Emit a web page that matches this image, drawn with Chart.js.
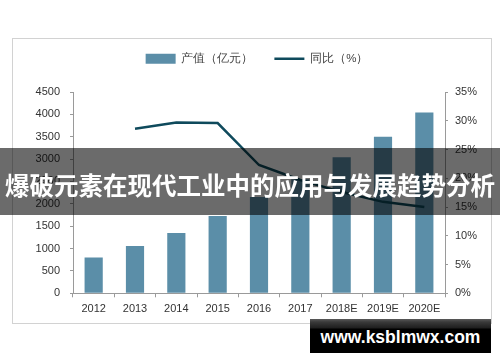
<!DOCTYPE html>
<html>
<head>
<meta charset="utf-8">
<script src="https://cdn.jsdelivr.net/npm/chart.js@4.4.0/dist/chart.umd.min.js"></script>
<style>
  html, body { margin: 0; padding: 0; background: #fff; }
  body { width: 500px; height: 362px; position: relative; overflow: hidden; }
  #frame { position: absolute; left: 12px; top: 38px; width: 480px; height: 286px;
           border: 1.5px solid #d2d2d2; box-sizing: border-box; }
  #box { position: absolute; left: 13px; top: 32px; width: 478px; height: 290px; }
  #banner { position: absolute; left: 0; top: 148px; width: 500px; height: 67px;
            background: rgba(0, 0, 0, 0.58); color: #fff; text-align: center;
            font-family: "Noto Sans CJK SC", sans-serif; font-weight: bold;
            font-size: 24.5px; line-height: 67px; padding-top: 3px; box-sizing: border-box;
            white-space: nowrap; }
  #mark { position: absolute; left: 310px; top: 319px; width: 181px; height: 34px;
          background: linear-gradient(#5a5a5a 0, #3a3a3a 3px, #1e1e1e 9px, #000 10px);
          color: #fff; text-align: center; font-family: "Liberation Sans", Arial, sans-serif;
          font-weight: bold; font-size: 17.5px; line-height: 36px; }
</style>
</head>
<body>
<div id="frame"></div>
<div id="box"><canvas id="grafico"></canvas></div>
<div id="banner">爆破元素在现代工业中的应用与发展趋势分析</div>
<div id="mark">www.ksblmwx.com</div>
<script>
var anos = ['2012', '2013', '2014', '2015', '2016', '2017', '2018E', '2019E', '2020E'];
var producao = [800, 1060, 1350, 1730, 2150, 2550, 3040, 3500, 4040];
var crescimento = [null, 28.6, 29.7, 29.6, 22.3, 19.7, 17.6, 15.9, 15.0];
var ticksEsq = [0, 500, 1000, 1500, 2000, 2500, 3000, 3500, 4000, 4500];
var ticksDir = [0, 5, 10, 15, 20, 25, 30, 35];

var corBarra = '#5b8ea8';
var corLinha = '#0f4a5c';
var corEixo = '#9a9a9a';

var fonte = { family: '"Liberation Sans", Arial, sans-serif', size: 11 };

// legenda com altura fixa para posicionar a area do grafico
var legendaAltura = {
    id: 'legendaAltura',
    beforeInit: function (chart) {
        var fit = chart.legend.fit;
        chart.legend.fit = function () {
            fit.bind(chart.legend)();
            this.height = 60;
        };
    }
};

new Chart(document.getElementById('grafico'), {
    data: {
        labels: anos,
        datasets: [{
            type: 'line',
            label: '同比（%）',
            data: crescimento,
            yAxisID: 'y1',
            borderColor: corLinha,
            backgroundColor: corLinha,
            borderWidth: 2.5,
            pointRadius: 0,
            tension: 0,
            pointStyle: 'line',
            order: 0
        }, {
            type: 'bar',
            label: '产值（亿元）',
            data: producao,
            yAxisID: 'y',
            backgroundColor: corBarra,
            borderWidth: 0,
            barPercentage: 0.44,
            categoryPercentage: 1,
            pointStyle: 'rect',
            order: 1
        }]
    },
    options: {
        responsive: true,
        maintainAspectRatio: false,
        animation: false,
        layout: { padding: { left: 10, right: 0, top: 0, bottom: 0 } },
        plugins: {
            tooltip: { enabled: false },
            legend: {
                display: true,
                position: 'top',
                reverse: true,
                labels: {
                    usePointStyle: true,
                    pointStyleWidth: 30,
                    boxHeight: 10,
                    padding: 21,
                    color: '#444',
                    font: { family: fonte.family, size: 11.5 }
                }
            }
        },
        scales: {
            x: {
                grid: { display: true, drawOnChartArea: false, offset: true, tickLength: 4, color: corEixo },
                border: { color: corEixo, width: 1 },
                ticks: { color: '#333', font: fonte, padding: 5, maxRotation: 0 },
                afterFit: function (s) { s.height = 28.7; }
            },
            y: {
                position: 'left',
                min: 0,
                max: 4500,
                afterBuildTicks: function (s) { s.ticks = ticksEsq.map(function (v) { return { value: v }; }); },
                grid: { display: true, drawOnChartArea: false, tickLength: 3, color: corEixo },
                border: { color: corEixo, width: 1 },
                ticks: { color: '#333', font: fonte, padding: 10, callback: function (v) { return String(v); } },
                afterFit: function (s) { s.width = 50; }
            },
            y1: {
                position: 'right',
                min: 0,
                max: 35,
                afterBuildTicks: function (s) { s.ticks = ticksDir.map(function (v) { return { value: v }; }); },
                grid: { display: true, drawOnChartArea: false, tickLength: 3, color: corEixo },
                border: { color: corEixo, width: 1 },
                ticks: { color: '#333', font: fonte, padding: 7, callback: function (v) { return v + '%'; } },
                afterFit: function (s) { s.width = 46; }
            }
        }
    },
    plugins: [legendaAltura]
});
</script>
</body>
</html>
